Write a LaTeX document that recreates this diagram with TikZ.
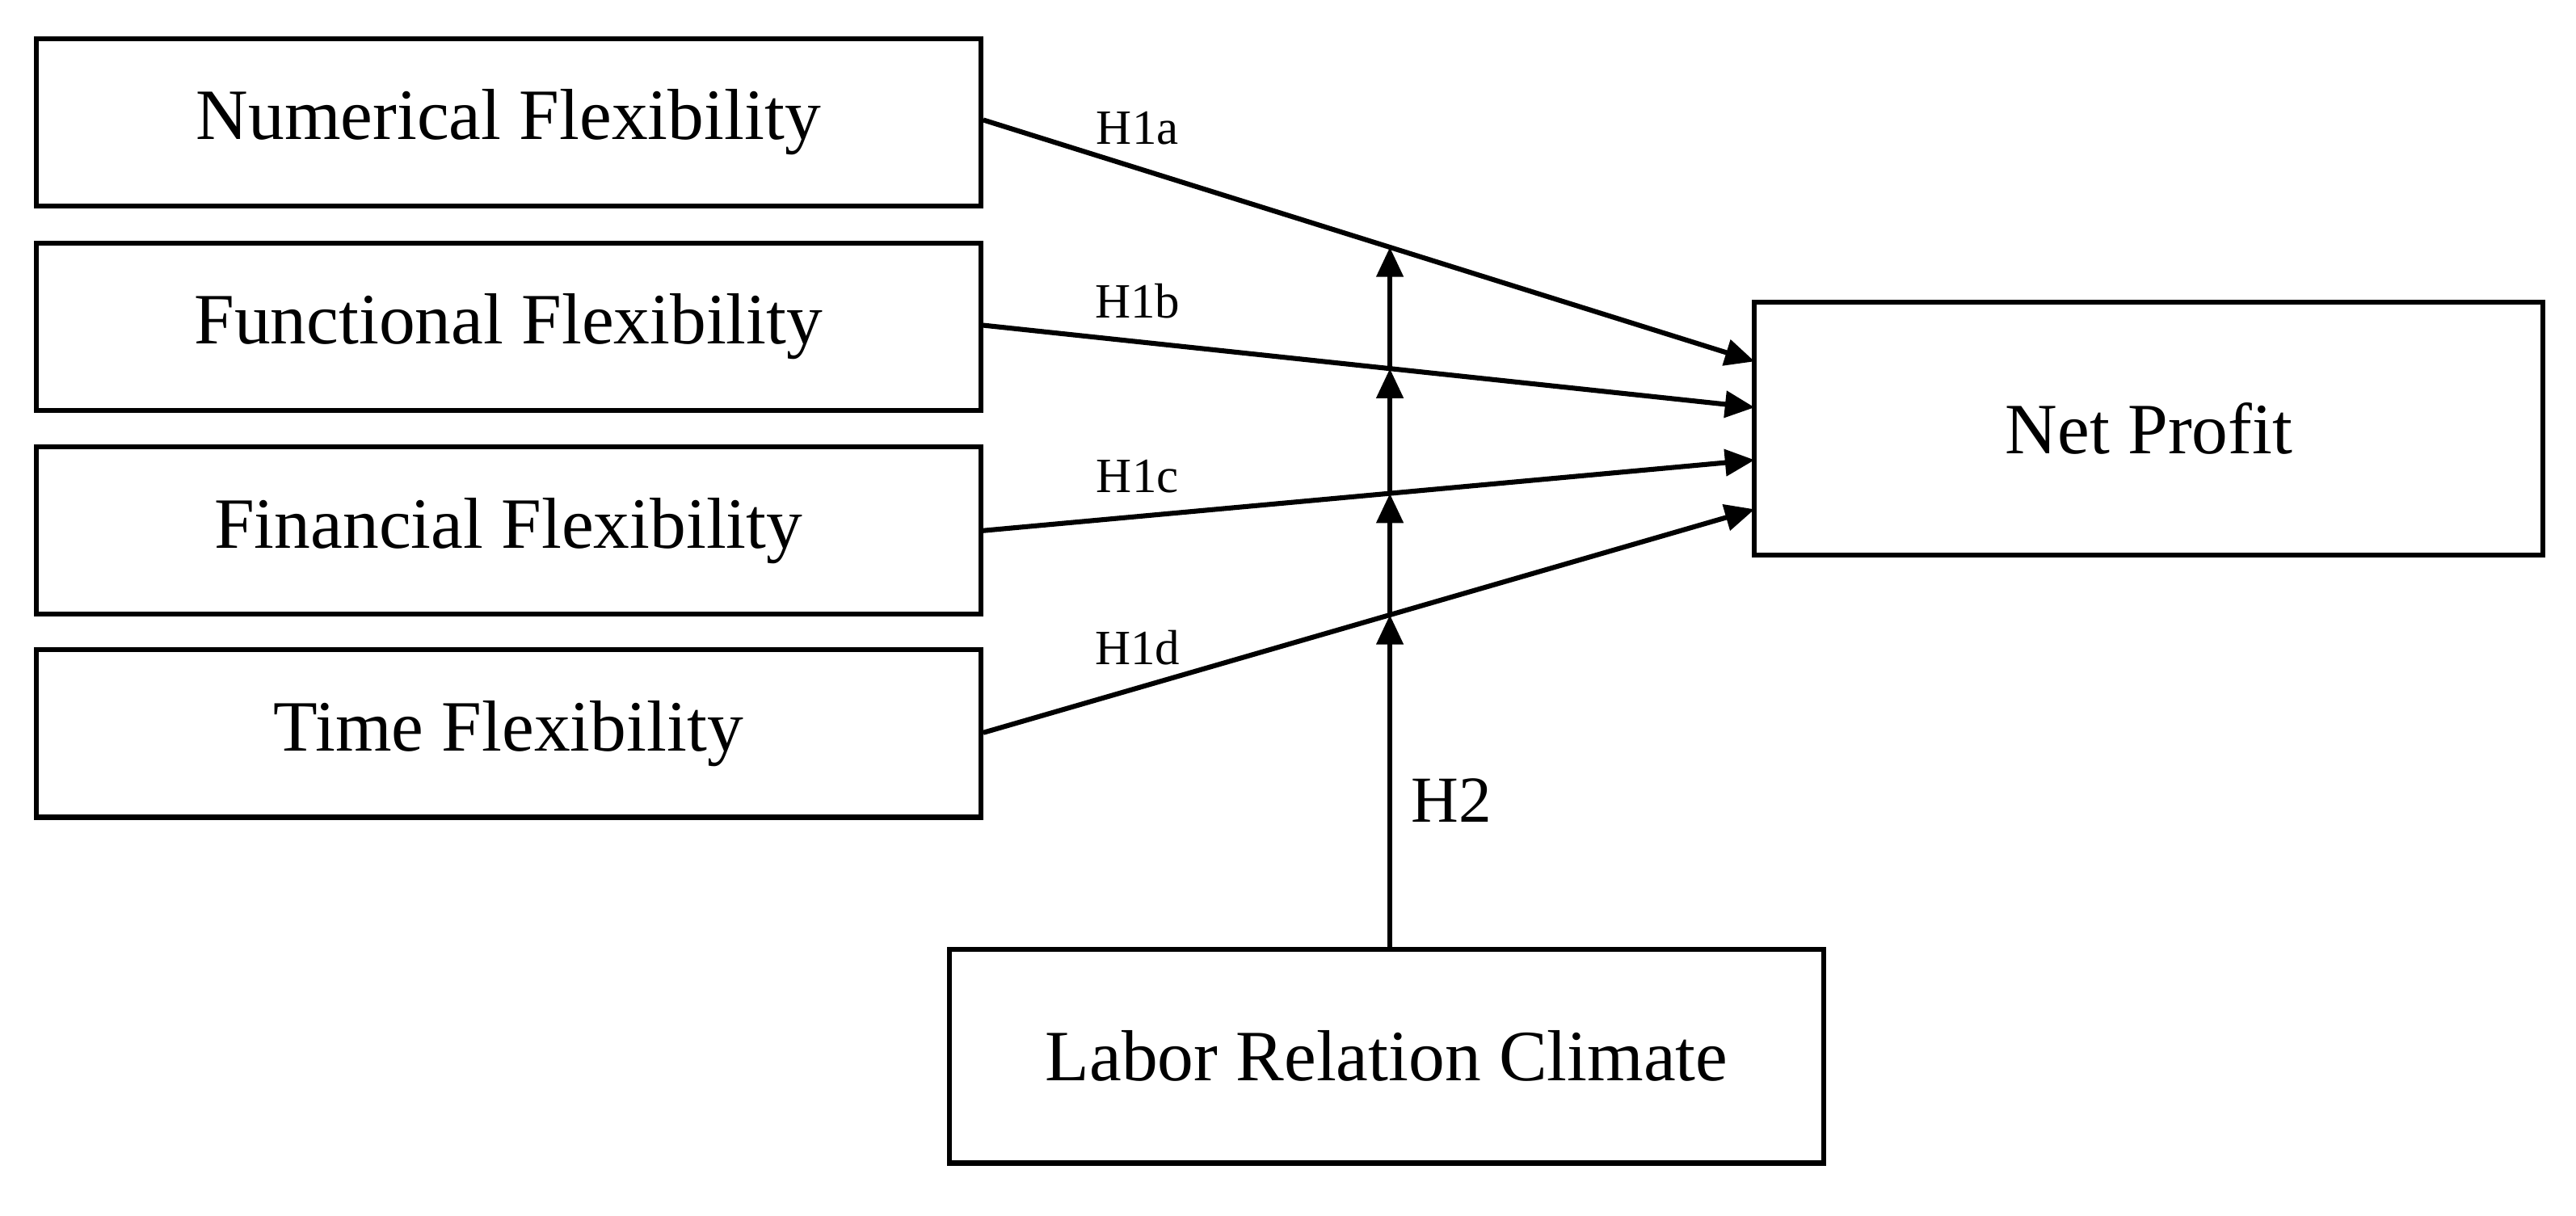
\documentclass[tikz,border=0pt]{standalone}
\usepackage{fontspec}
\setmainfont{Liberation Serif}
\usetikzlibrary{arrows.meta,intersections}
\begin{document}
\begin{tikzpicture}[x=0.5pt,y=-0.5pt,
  box/.style={draw,line width=1.5pt,minimum height=51pt,inner sep=0pt,font=\fontsize{22}{26}\selectfont},
  arr/.style={line width=1.5pt,-{Triangle[length=9pt,width=8pt]}},
  lab/.style={font=\fontsize{15}{18}\selectfont}]
\useasboundingbox (0,0) rectangle (1568,740);
\node[box,minimum width=287.5pt] (nf) at (309.5,74.5) {Numerical Flexibility};
\node[box,minimum width=287.5pt] (ff) at (309.5,199) {Functional Flexibility};
\node[box,minimum width=287.5pt] (fi) at (309.5,323) {Financial Flexibility};
\node[box,minimum width=287.5pt] (tf) at (309.5,446.5) {Time Flexibility};
\node[box,minimum width=240pt,minimum height=77pt] (np) at (1308,261) {Net Profit};
\node[box,minimum width=266pt,minimum height=65pt] (lr) at (844,643) {Labor Relation Climate};
\coordinate (a) at (1068,220);
\coordinate (b) at (1068,248);
\coordinate (c) at (1068,280);
\coordinate (d) at (1068,310);
\draw[arr,name path=la] (nf.east |- 0,73) -- (a) node[lab,pos=0.2,above=3pt] {H1a};
\draw[arr,name path=lb] (ff.east |- 0,198) -- (b) node[lab,pos=0.2,above=3pt] {H1b};
\draw[arr,name path=lc] (fi.east |- 0,323) -- (c) node[lab,pos=0.2,above=3pt] {H1c};
\draw[arr,name path=ld] (tf.east |- 0,446) -- (d) node[lab,pos=0.2,above=3pt] {H1d};
\path[name path=v] (846,700) -- (846,0);
\path[name intersections={of=v and la,by=ia}];
\path[name intersections={of=v and lb,by=ib}];
\path[name intersections={of=v and lc,by=ic}];
\path[name intersections={of=v and ld,by=id}];
\draw[arr] (lr.north -| ia) -- (id);
\draw[arr] (id) -- (ic);
\draw[arr] (ic) -- (ib);
\draw[arr] (ib) -- (ia);
\node[font=\fontsize{20}{24}\selectfont,anchor=west] (h2) at (852,487) {H2};
\end{tikzpicture}
\end{document}
